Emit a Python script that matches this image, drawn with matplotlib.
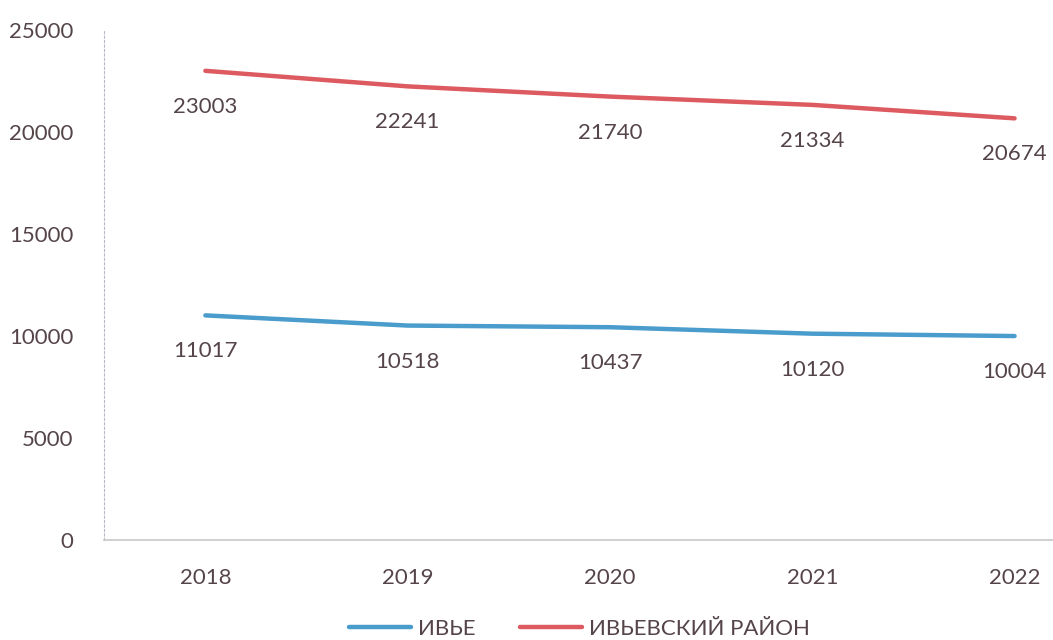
import matplotlib.pyplot as plt

years = ['2018', '2019', '2020', '2021', '2022']
ivye = [11017, 10518, 10437, 10120, 10004]
district = [23003, 22241, 21740, 21334, 20674]
y_ticks = [0, 5000, 10000, 15000, 20000, 25000]

plt.rcParams['font.family'] = ['Lato', 'DejaVu Sans']
txt = '#554549'

fig = plt.figure(figsize=(10.53, 6.4), dpi=100)
ax = fig.add_axes([0.099, 0.156, 0.901, 0.797])

x = range(len(years))
ax.plot(x, ivye, color='#4a9ccc', lw=3.2, label='ИВЬЕ', solid_capstyle='round')
ax.plot(x, district, color='#dd5a60', lw=3.2, label='ИВЬЕВСКИЙ РАЙОН', solid_capstyle='round')

for i, v in enumerate(ivye):
    ax.annotate(str(v), (i, v), xytext=(0, -26), textcoords='offset points',
                ha='center', va='center', fontsize=16, color=txt)
for i, v in enumerate(district):
    ax.annotate(str(v), (i, v), xytext=(0, -26), textcoords='offset points',
                ha='center', va='center', fontsize=16, color=txt)

ax.set_xlim(-0.5, 4.19)
ax.set_ylim(0, 25000)
ax.set_xticks(list(x))
ax.set_xticklabels(years)
ax.set_yticks(y_ticks)
ax.tick_params(length=0, labelsize=16, labelcolor=txt)
ax.tick_params(axis='x', pad=20)
ax.tick_params(axis='y', pad=22)

for s in ['top', 'right']:
    ax.spines[s].set_visible(False)
ax.spines['left'].set_color('#b8b8c8')
ax.spines['left'].set_linestyle((0, (2, 2)))
ax.spines['left'].set_linewidth(0.8)
ax.spines['bottom'].set_color('#c8c8c8')
ax.spines['bottom'].set_linewidth(1.2)

leg = fig.legend(loc='lower center', bbox_to_anchor=(0.55, -0.03), ncol=2, frameon=False,
                 fontsize=16, handlelength=2.8, columnspacing=2.0, handletextpad=0.3)
for t in leg.get_texts():
    t.set_color(txt)

fig.savefig('out.png', dpi=100)
